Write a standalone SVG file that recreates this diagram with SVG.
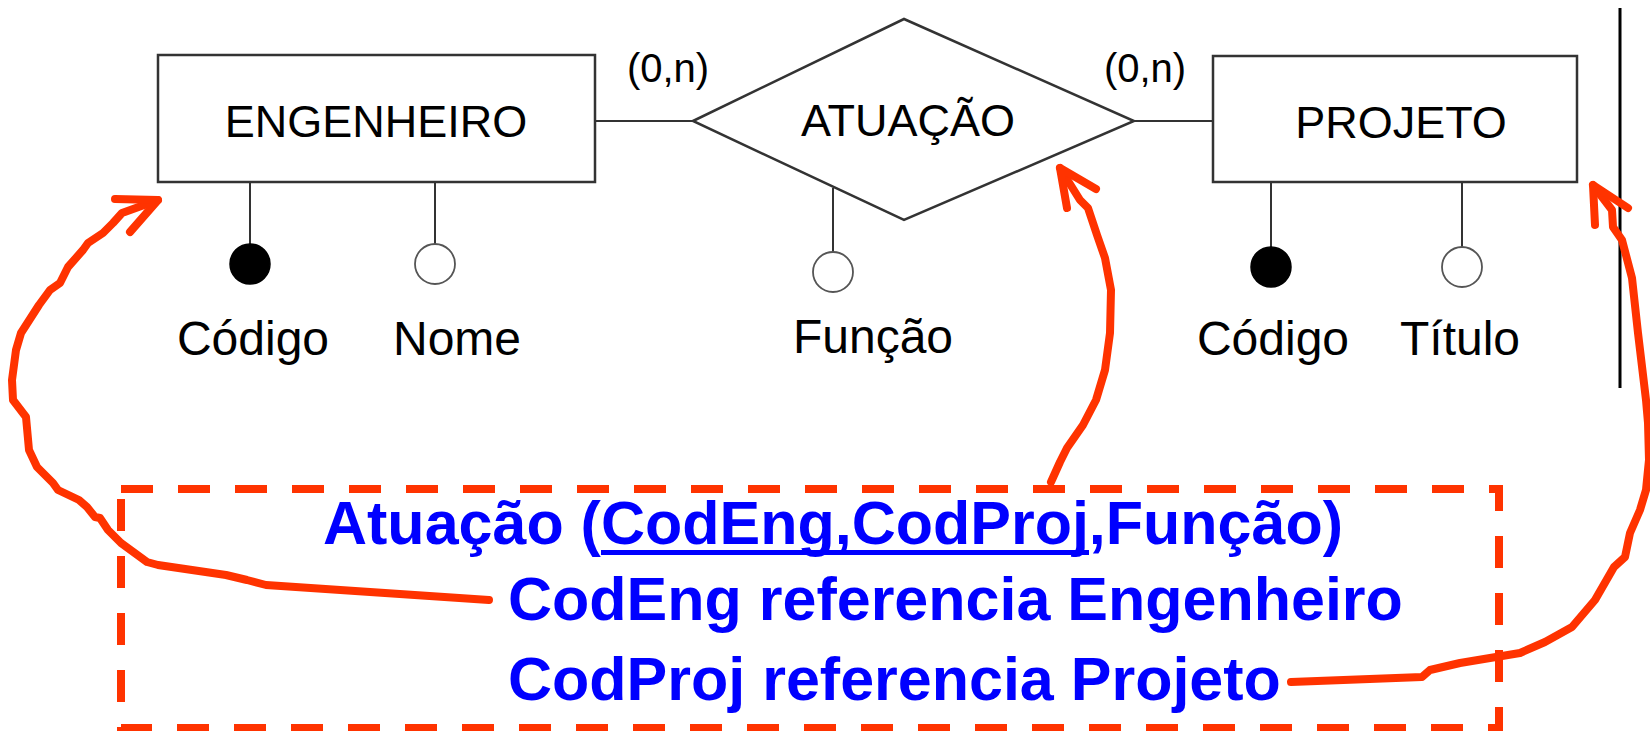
<svg xmlns="http://www.w3.org/2000/svg" width="1650" height="731" viewBox="0 0 1650 731">
<style>
.shape{fill:#fff;stroke:#333;stroke-width:2.5}
.conn{stroke:#333;stroke-width:2;fill:none}
.ent{font-family:"Liberation Sans",Arial,sans-serif;font-size:45px;fill:#000;text-anchor:middle}
.lbl{font-family:"Liberation Sans",Arial,sans-serif;font-size:48px;fill:#000;text-anchor:middle}
.card{font-family:"Liberation Sans",Arial,sans-serif;font-size:40px;fill:#000;text-anchor:middle}
.key{fill:#000;stroke:#000;stroke-width:1.5}
.opt{fill:#fff;stroke:#555;stroke-width:1.8}
.rel{font-family:"Liberation Sans",Arial,sans-serif;font-size:61px;font-weight:bold;fill:#0000ff}
.red{fill:none;stroke:#ff3300;stroke-width:8;stroke-linecap:round;stroke-linejoin:round}
</style>
<rect width="1650" height="731" fill="#fff"/>
<g id="connectors">
<line class="conn" x1="595" y1="121" x2="693" y2="121"/>
<line class="conn" x1="1134" y1="121" x2="1213" y2="121"/>
<line class="conn" x1="250" y1="182" x2="250" y2="244"/>
<line class="conn" x1="435" y1="182" x2="435" y2="244"/>
<line class="conn" x1="833" y1="188" x2="833" y2="252"/>
<line class="conn" x1="1271" y1="182" x2="1271" y2="247"/>
<line class="conn" x1="1462" y1="182" x2="1462" y2="247"/>
<text class="card" x="668" y="82">(0,n)</text>
<text class="card" x="1145" y="82">(0,n)</text>
</g>
<g id="engenheiro">
<rect class="shape" x="158" y="55" width="437" height="127"/>
<text class="ent" x="376" y="137">ENGENHEIRO</text>
</g>
<g id="atuacao">
<polygon class="shape" points="693,121 904,19 1134,121 904,220"/>
<text class="ent" x="908" y="136">ATUAÇÃO</text>
</g>
<g id="projeto">
<rect class="shape" x="1213" y="56" width="364" height="126"/>
<text class="ent" x="1401" y="138">PROJETO</text>
</g>
<g id="eng-codigo">
<circle class="key" cx="250" cy="264" r="20"/>
<text class="lbl" x="253" y="355">Código</text>
</g>
<g id="eng-nome">
<circle class="opt" cx="435" cy="264" r="20"/>
<text class="lbl" x="457" y="355">Nome</text>
</g>
<g id="atu-funcao">
<circle class="opt" cx="833" cy="272" r="20"/>
<text class="lbl" x="873" y="353">Função</text>
</g>
<g id="proj-codigo">
<circle class="key" cx="1271" cy="267" r="20"/>
<text class="lbl" x="1273" y="355">Código</text>
</g>
<g id="proj-titulo">
<circle class="opt" cx="1462" cy="267" r="20"/>
<text class="lbl" x="1460" y="355">Título</text>
</g>
<line x1="1620" y1="8" x2="1620" y2="388" stroke="#000" stroke-width="3"/>
<g id="relational">
<rect x="121" y="489" width="1378" height="239" fill="none" stroke="#ff3300" stroke-width="8" stroke-dasharray="32 25"/>
<text class="rel" x="323" y="544">Atuação (CodEng,CodProj,Função)</text>
<rect x="601" y="550" width="488" height="5" fill="#0000ff"/>
<text class="rel" x="508" y="620">CodEng referencia Engenheiro</text>
<text class="rel" x="508" y="700">CodProj referencia Projeto</text>
</g>
<g id="annotations">
<polyline class="red" points="489,600 266,585 247,580 226,575 158,565 147,562 121,543 108,530 100,518 95,517 87,507 79,500 58,490 53,483 37,467 29,450 26,417 13,400 12,380 16,350 21,333 39,305 50,290 60,283 68,267 83,250 88,243 103,233 113,223 122,213 158,200"/>
<polyline class="red" points="115,199 158,200 130,232"/>
<polyline class="red" points="1051,482 1060,462 1067,448 1083,425 1096,400 1105,370 1110,333 1111,290 1105,258 1097,235 1088,208 1080,200 1060,168"/>
<polyline class="red" points="1067,208 1060,168 1096,189"/>
<polyline class="red" points="1291,682 1422,677 1430,670 1460,663 1496,657 1520,653 1545,642 1572,627 1595,600 1614,567 1625,557 1630,533 1640,510 1646,490 1649,460 1648,423 1646,400 1638,333 1632,278 1622,240 1613,227 1612,210 1593,185"/>
<polyline class="red" points="1595,225 1593,185 1628,208"/>
</g>
</svg>
